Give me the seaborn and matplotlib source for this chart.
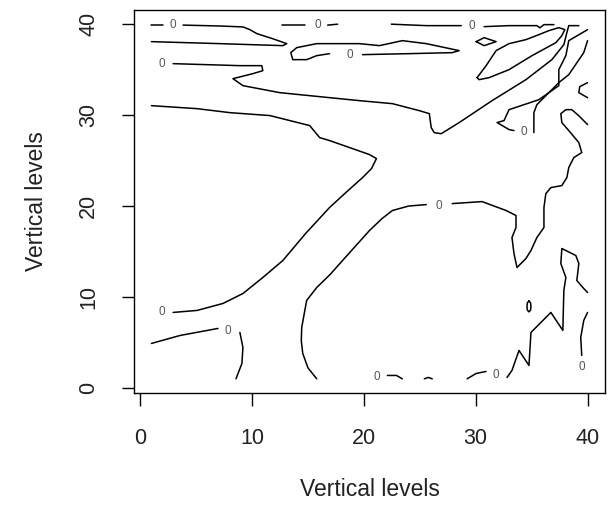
import matplotlib
matplotlib.use("Agg")
import matplotlib.pyplot as plt
import pandas as pd
import seaborn as sns

# Zero-level contour pieces of the level-by-level field (both axes are vertical levels 1..40)
top_a1_x = [1.0, 2.05]
top_a1_y = [39.9, 39.9]
top_a2_x = [3.83, 7.13, 9.18, 9.80, 10.43, 11.85, 13.10, 12.75, 7.13, 1.0]
top_a2_y = [39.9, 39.8, 39.7, 39.4, 38.96, 38.4, 37.86, 37.64, 37.86, 38.08]
top_b1_x = [12.66, 14.71]
top_b1_y = [39.9, 39.9]
top_b2_x = [16.76, 17.65]
top_b2_y = [39.9, 40.0]
top_c1_x = [22.46, 25.58, 28.70]
top_c1_y = [40.0, 39.84, 39.84]
top_c2_x = [30.75, 32.98, 35.47, 35.74, 36.10, 36.99]
top_c2_y = [39.73, 39.84, 39.84, 39.6, 39.95, 39.95]
loop_x = [19.88, 24.06, 27.90, 28.52, 25.58, 23.44, 21.39, 19.61, 15.78, 13.99,
          13.46, 13.64, 14.88, 15.78, 16.93]
loop_y = [36.65, 36.76, 36.87, 37.09, 37.86, 38.19, 37.64, 37.86, 37.86, 37.42,
          36.87, 36.10, 36.10, 36.54, 36.76]
islet_x = [30.04, 30.75, 31.82, 30.75, 30.04]
islet_y = [38.08, 38.52, 38.08, 37.64, 38.08]
ridge_x = [2.94, 8.91, 10.87, 10.96, 10.07, 8.29, 9.18, 12.48, 16.93, 19.61, 22.55,
           24.96, 25.85, 26.02, 26.29, 26.92, 28.52, 31.46, 34.49, 36.81, 37.88,
           38.15, 38.32, 39.22]
ridge_y = [35.66, 35.44, 35.44, 34.89, 34.56, 34.01, 33.24, 32.47, 31.92, 31.59, 31.26,
           30.49, 30.16, 28.62, 28.07, 27.96, 29.18, 31.59, 33.90, 36.10, 37.75,
           39.07, 39.84, 39.84]
band_x = [30.12, 30.93, 31.82, 32.98, 34.49, 35.65, 36.54, 37.43, 37.97, 37.70,
          37.17, 35.03, 32.98, 31.19, 30.30, 30.12]
band_y = [34.12, 35.44, 37.09, 37.86, 38.30, 38.85, 39.29, 39.62, 39.40, 38.74,
          37.97, 36.54, 35.00, 34.12, 33.90, 34.12]
tongue1_x = [40.0, 38.32, 38.06, 37.43, 37.43, 35.65, 32.98, 32.53, 31.91, 32.98, 33.42]
tongue1_y = [39.4, 38.19, 36.54, 35.00, 33.24, 31.70, 30.60, 29.40, 29.18, 28.41, 28.30]
tongue2_x = [35.20, 35.20, 35.47, 36.54, 37.43, 38.32, 39.66, 40.0]
tongue2_y = [28.08, 30.27, 31.15, 32.47, 33.57, 34.45, 36.87, 38.19]
hook_x = [40.0, 39.30, 39.22, 40.0]
hook_y = [33.57, 33.13, 32.47, 31.92]
basin1_x = [15.78, 15.0, 14.53, 14.40, 14.44, 14.88, 15.78, 17.0, 18.09, 20.50,
            21.6, 22.55, 24.0, 25.58]
basin1_y = [1.0, 2.2, 3.79, 5.2, 6.65, 9.62, 11.04, 12.5, 14.01, 17.31,
            18.6, 19.51, 20.0, 20.16]
basin2_x = [27.90, 30.57, 32.71, 33.60, 33.60, 33.24, 33.42, 33.69, 34.49, 34.94,
            35.47, 36.10, 36.10, 36.27, 36.72, 37.70, 38.15, 38.32, 38.77, 39.48,
            39.22, 38.32, 37.70, 37.61, 38.06, 38.59, 39.22, 40.0]
basin2_y = [20.27, 20.49, 19.51, 18.96, 17.64, 16.54, 14.78, 13.24, 14.23, 15.11,
            16.54, 17.64, 19.84, 21.37, 22.03, 22.25, 23.13, 24.23, 25.33, 25.88,
            26.98, 28.30, 29.18, 30.16, 30.60, 30.60, 29.93, 28.96]
wedge_x = [1.0, 5.08, 8.02, 11.59, 15.15, 16.04, 16.93, 18.72, 20.50, 21.12, 20.68,
           19.88, 18.4, 16.93, 14.8, 12.75, 10.96, 9.18, 7.40, 5.08, 2.94]
wedge_y = [31.04, 30.71, 30.27, 29.95, 28.85, 27.53, 27.20, 26.43, 25.66, 25.22, 24.12,
           23.13, 21.5, 19.84, 17.0, 14.01, 12.14, 10.38, 9.29, 8.52, 8.30]
low1_x = [1.0, 3.57, 6.95]
low1_y = [4.89, 5.77, 6.54]
low2_x = [8.91, 9.18, 9.09, 8.56]
low2_y = [6.10, 4.45, 2.69, 1.0]
floor1_x = [22.10, 22.91, 23.44]
floor1_y = [1.37, 1.37, 1.0]
floor2_x = [25.40, 25.76, 26.11]
floor2_y = [1.0, 1.15, 1.0]
floor3_x = [29.23, 30.04, 30.93]
floor3_y = [1.0, 1.59, 1.81]
zigzag_x = [32.80, 33.24, 33.87, 34.76, 34.94, 36.72, 37.79, 37.88, 38.06, 37.61,
            37.70, 38.95, 39.22, 39.04, 39.66, 40.0]
zigzag_y = [1.15, 1.92, 4.12, 2.47, 6.10, 8.30, 6.32, 10.71, 12.14, 13.68,
            15.33, 14.56, 13.68, 11.81, 10.93, 10.49]
edge_x = [40.0, 39.66, 39.39, 39.48]
edge_y = [8.30, 7.42, 5.55, 3.57]
speck_x = [34.76, 34.90, 34.94, 34.90, 34.76, 34.62, 34.58, 34.62, 34.76]
speck_y = [9.56, 9.36, 8.96, 8.56, 8.36, 8.56, 8.96, 9.36, 9.56]

# Contour level labels
label_x = [2.94, 15.86, 29.68, 18.72, 1.96, 34.31, 26.74, 1.96, 7.84, 21.12, 31.82, 39.48]
label_y = [39.9, 39.9, 39.8, 36.65, 35.66, 28.19, 20.05, 8.30, 6.21, 1.15, 1.37, 2.25]
label_text = ["0"] * len(label_x)

ticks = [0, 10, 20, 30, 40]
axis_title = "Vertical levels"

pieces = [
    (top_a1_x, top_a1_y), (top_a2_x, top_a2_y), (top_b1_x, top_b1_y),
    (top_b2_x, top_b2_y), (top_c1_x, top_c1_y), (top_c2_x, top_c2_y),
    (loop_x, loop_y), (islet_x, islet_y), (ridge_x, ridge_y), (band_x, band_y),
    (tongue1_x, tongue1_y), (tongue2_x, tongue2_y), (hook_x, hook_y),
    (basin1_x, basin1_y), (basin2_x, basin2_y), (wedge_x, wedge_y),
    (low1_x, low1_y), (low2_x, low2_y), (floor1_x, floor1_y),
    (floor2_x, floor2_y), (floor3_x, floor3_y), (zigzag_x, zigzag_y),
    (edge_x, edge_y), (speck_x, speck_y),
]
rows = []
for k, (xs, ys) in enumerate(pieces):
    for i, (xv, yv) in enumerate(zip(xs, ys)):
        rows.append({"piece": k, "order": i, "x": xv, "y": yv})
df = pd.DataFrame(rows)

sns.set_theme(style="white")
plt.rcParams["font.family"] = ["Liberation Sans", "DejaVu Sans"]

fig = plt.figure(figsize=(6.13, 5.05), dpi=100)
ax = fig.add_axes([134 / 613, 1 - 393 / 505, (605 - 134) / 613, (393 - 10) / 505])

sns.lineplot(data=df, x="x", y="y", units="piece", estimator=None, sort=False,
             color="black", linewidth=1.1, ax=ax, legend=False)

for xv, yv, t in zip(label_x, label_y, label_text):
    ax.text(xv, yv, t, fontsize=8.5, color="#555555", ha="center", va="center")

ax.set_xlim(1 - 0.04 * 39, 40 + 0.04 * 39)
ax.set_ylim(1 - 0.04 * 39, 40 + 0.04 * 39)
ax.set_xticks(ticks)
ax.set_yticks(ticks)
ax.set_xticklabels([str(t) for t in ticks], fontsize=15.5, color="#222222")
ax.set_yticklabels([str(t) for t in ticks], fontsize=15.5, rotation=90, va="center",
                   color="#222222")
ax.tick_params(axis="both", direction="out", length=9, width=1.0, color="black",
               bottom=True, left=True, pad=16)
for s in ax.spines.values():
    s.set_visible(True)
    s.set_color("black")
    s.set_linewidth(1.0)
ax.set_xlabel(axis_title, fontsize=16.5, labelpad=21, color="#222222")
ax.set_ylabel(axis_title, fontsize=16.5, labelpad=22, color="#222222")
ax.set_facecolor("white")
fig.patch.set_facecolor("white")

fig.savefig("out.png", dpi=100)
